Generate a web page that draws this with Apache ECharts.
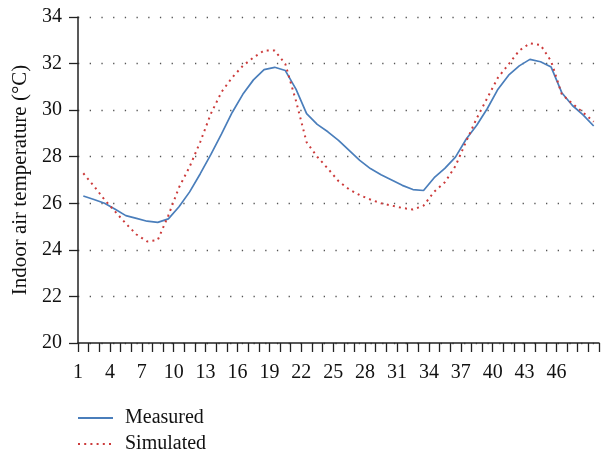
<!DOCTYPE html>
<html>
<head>
<meta charset="utf-8">
<script src="https://cdn.jsdelivr.net/npm/echarts@6/dist/echarts.min.js"></script>
<style>
html,body{margin:0;padding:0;background:#fff;}
#chart{width:606px;height:453px;}
</style>
</head>
<body>
<div id="chart"></div>
<script>
// Hours (categories)
var hours = [];
for (var h = 1; h <= 49; h++) hours.push(String(h));
// Tick-label positions (category boundaries)
var tickLabels = [];
for (var t = 1; t <= 50; t++) tickLabels.push(String(t));

var measured = [26.31, 26.16, 26.0, 25.74, 25.47, 25.35, 25.23, 25.18, 25.33, 25.85,
  26.49, 27.27, 28.1, 28.98, 29.9, 30.68, 31.3, 31.74, 31.84, 31.7,
  30.9, 29.85, 29.39, 29.07, 28.7, 28.27, 27.84, 27.49, 27.23, 27.0,
  26.77, 26.59, 26.55, 27.1, 27.5, 27.98, 28.75, 29.35, 30.07, 30.9,
  31.5, 31.9, 32.18, 32.08, 31.85, 30.75, 30.2, 29.8, 29.32];

var simulated = [27.29, 26.74, 26.15, 25.64, 25.13, 24.66, 24.36, 24.42, 25.48, 26.68,
  27.57, 28.64, 29.85, 30.78, 31.4, 31.9, 32.26, 32.56, 32.56, 31.98,
  30.4, 28.62, 28.0, 27.49, 26.95, 26.6, 26.35, 26.16, 26.0, 25.9,
  25.8, 25.73, 25.9, 26.5, 26.9, 27.6, 28.65, 29.65, 30.53, 31.4,
  31.97, 32.56, 32.87, 32.8, 32.1, 30.68, 30.28, 29.9, 29.5];

var seriesNames = ['Measured', 'Simulated'];
var yTicks = {min: 20, max: 34, step: 2};

var font = '"Liberation Serif", "DejaVu Serif", serif';
function legendFor(name, top) {
  return {
    orient: 'horizontal',
    left: 77,
    top: top,
    padding: 0,
    itemWidth: 35,
    itemHeight: 14,
    itemStyle: {opacity: 0},
    textStyle: {fontFamily: font, fontSize: 20, color: '#111', padding: [0, 0, 0, 7]},
    data: [name]
  };
}
var chart = echarts.init(document.getElementById('chart'), null, {renderer: 'canvas'});
chart.setOption({
  animation: false,
  backgroundColor: '#ffffff',
  grid: {left: 78, right: 7, top: 17, bottom: 110, containLabel: false},
  legend: [legendFor(seriesNames[0], 408), legendFor(seriesNames[1], 434)],
  xAxis: [{
    type: 'category',
    data: hours,
    boundaryGap: true,
    axisLine: {lineStyle: {color: '#222', width: 1.5}},
    axisTick: {show: false},
    axisLabel: {show: false},
    splitLine: {show: false}
  }, {
    type: 'category',
    data: tickLabels,
    position: 'bottom',
    boundaryGap: false,
    axisLine: {show: false},
    axisTick: {show: true, interval: 0, length: 9, lineStyle: {color: '#222', width: 1.3}},
    axisLabel: {
      interval: function (i) { return i % 3 === 0 && i <= 45; },
      fontFamily: font, fontSize: 20, color: '#111', margin: 20
    },
    splitLine: {show: false}
  }],
  yAxis: {
    type: 'value',
    min: yTicks.min, max: yTicks.max, interval: yTicks.step,
    name: 'Indoor air temperature (°C)',
    nameLocation: 'middle',
    nameGap: 41,
    nameTextStyle: {fontFamily: font, fontSize: 21, color: '#111'},
    axisLine: {show: true, lineStyle: {color: '#222', width: 1.5}},
    axisTick: {show: true, length: 9, lineStyle: {color: '#222', width: 1.3}},
    axisLabel: {fontFamily: font, fontSize: 20, color: '#111', margin: 16},
    splitLine: {show: true, lineStyle: {color: '#555', width: 1.3, type: [1.3, 10.4]}}
  },
  series: [{
    name: seriesNames[0],
    type: 'line',
    xAxisIndex: 0,
    data: measured,
    symbol: 'none',
    lineStyle: {color: '#4a7ebb', width: 1.7},
    itemStyle: {color: '#4a7ebb'}
  }, {
    name: seriesNames[1],
    type: 'line',
    xAxisIndex: 0,
    data: simulated,
    symbol: 'none',
    lineStyle: {color: '#cc3b3b', width: 2, type: [2, 4.2]},
    itemStyle: {color: '#cc3b3b'}
  }]
});
</script>
</body>
</html>
